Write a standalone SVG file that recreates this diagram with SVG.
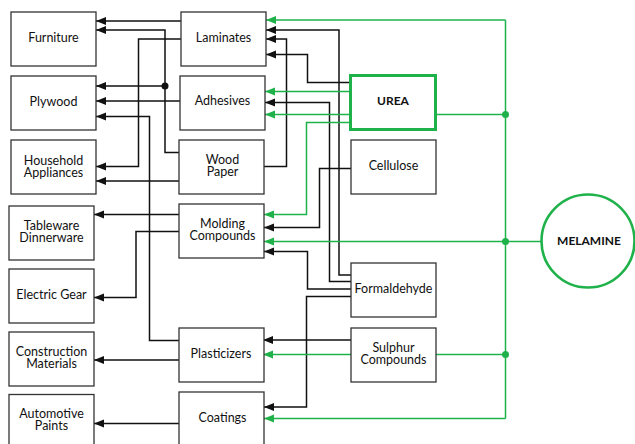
<svg xmlns="http://www.w3.org/2000/svg" width="635" height="444" viewBox="0 0 635 444">
<style>
.box{fill:#fff;stroke:#333;stroke-width:1.3}
.urea{fill:#fff;stroke:#1fb24a;stroke-width:3}
.mel{fill:#fff;stroke:#1fb24a;stroke-width:2.6}
text{font-family:Lato,"Noto Sans",sans-serif;font-size:12.5px;fill:#111;text-anchor:middle;dominant-baseline:central}
.b{font-weight:bold;font-size:12px}
.k{fill:none;stroke:#111;stroke-width:1.5}
.g{fill:none;stroke:#1fb24a;stroke-width:1.5}
.dk{fill:#111}
.dg{fill:#1fb24a}
</style>
<defs>
<marker id="ak" markerUnits="userSpaceOnUse" markerWidth="10" markerHeight="10" viewBox="0 0 10 10" refX="10" refY="5" orient="auto"><path d="M0,1 L10,5 L0,9 z" fill="#111"/></marker>
<marker id="ag" markerUnits="userSpaceOnUse" markerWidth="10" markerHeight="10" viewBox="0 0 10 10" refX="10" refY="5" orient="auto"><path d="M0,1 L10,5 L0,9 z" fill="#1fb24a"/></marker>
</defs>
<g id="connectors">
<g marker-end="url(#ak)" class="k">
<path d="M181,21 H96"/>
<path d="M179,152.5 H165 V30 H96"/>
<path d="M165,86 H96"/>
<path d="M181,39 H138.5 V166.5 H96"/>
<path d="M180,101 H96"/>
<path d="M179,340.5 H149.5 V116.5 H96"/>
<path d="M179,181 H96"/>
<path d="M179,214.5 H94"/>
<path d="M179,231.5 H136 V297.5 H94"/>
<path d="M179,360 H94"/>
<path d="M179,423.5 H94"/>
<path d="M351,275 H339 V30 H266"/>
<path d="M351,281.5 H329.5 V102.5 H265"/>
<path d="M264,166.5 H286.5 V39 H266"/>
<path d="M350,82.5 H307.5 V54.5 H266"/>
<path d="M351,168.5 H319.5 V227.5 H264"/>
<path d="M351,289 H307.5 V251.5 H264"/>
<path d="M351,296.5 H306.5 V407 H264"/>
<path d="M351,340 H263"/>
</g>
<g marker-end="url(#ag)" class="g">
<path d="M505.5,20 H266"/>
<path d="M350,91.5 H265"/>
<path d="M350,114.5 H265"/>
<path d="M350,122.5 H306.5 V214.5 H264"/>
<path d="M541,241.5 H264"/>
<path d="M351,354.5 H263"/>
<path d="M505.5,418.5 H264"/>
</g>
<path class="g" d="M505.5,20 V418.5 M436,114.5 H505.5 M436,354.5 H505.5"/>
<circle class="dk" cx="165" cy="86" r="3.5"/>
<circle class="dg" cx="505.5" cy="114.5" r="3.5"/>
<circle class="dg" cx="505.5" cy="241.5" r="3.5"/>
<circle class="dg" cx="505.5" cy="354.5" r="3.5"/>
</g>
<g id="furniture"><rect class="box" x="11" y="12" width="85" height="54"/><text x="53.5" y="37">Furniture</text></g>
<g id="plywood"><rect class="box" x="11" y="76" width="85" height="54"/><text x="53.5" y="101">Plywood</text></g>
<g id="household"><rect class="box" x="11" y="140" width="85" height="54"/><text x="53.5" y="160.2">Household<tspan x="53.5" dy="11.6">Appliances</tspan></text></g>
<g id="tableware"><rect class="box" x="9" y="206" width="85" height="54"/><text x="51.5" y="225.1">Tableware<tspan x="51.5" dy="11.4">Dinnerware</tspan></text></g>
<g id="electric"><rect class="box" x="9" y="269" width="85" height="54"/><text x="51.5" y="294.7">Electric Gear</text></g>
<g id="construction"><rect class="box" x="9" y="332" width="85" height="54"/><text x="51.5" y="351.3">Construction<tspan x="51.5" dy="11.4">Materials</tspan></text></g>
<g id="automotive"><rect class="box" x="9" y="394.5" width="85" height="54"/><text x="51.5" y="413.8">Automotive<tspan x="51.5" dy="11.4">Paints</tspan></text></g>
<g id="laminates"><rect class="box" x="181" y="12" width="85" height="54"/><text x="223.5" y="37">Laminates</text></g>
<g id="adhesives"><rect class="box" x="180" y="76" width="85" height="54"/><text x="222.5" y="100.7">Adhesives</text></g>
<g id="woodpaper"><rect class="box" x="179" y="140" width="85" height="54"/><text x="222.5" y="159.5">Wood<tspan x="222.5" dy="11.4">Paper</tspan></text></g>
<g id="molding"><rect class="box" x="179" y="204" width="85" height="54"/><text x="222.5" y="223.4">Molding<tspan x="222.5" dy="11.4">Compounds</tspan></text></g>
<g id="plasticizers"><rect class="box" x="179" y="328" width="85" height="54"/><text x="221" y="353">Plasticizers</text></g>
<g id="coatings"><rect class="box" x="179" y="392" width="85" height="56"/><text x="222.5" y="417.3">Coatings</text></g>
<g id="urea"><rect class="urea" x="350.5" y="75.5" width="85" height="54"/><text class="b" x="393" y="100">UREA</text></g>
<g id="cellulose"><rect class="box" x="351" y="140" width="85" height="54"/><text x="393.5" y="165">Cellulose</text></g>
<g id="formaldehyde"><rect class="box" x="351" y="263" width="85" height="54"/><text x="393.5" y="288.3">Formaldehyde</text></g>
<g id="sulphur"><rect class="box" x="351" y="328" width="85" height="54"/><text x="393.5" y="347.1">Sulphur<tspan x="393.5" dy="11.4">Compounds</tspan></text></g>
<g id="melamine"><circle class="mel" cx="588" cy="241" r="46.5"/><text class="b" x="589" y="240">MELAMINE</text></g>
</svg>
